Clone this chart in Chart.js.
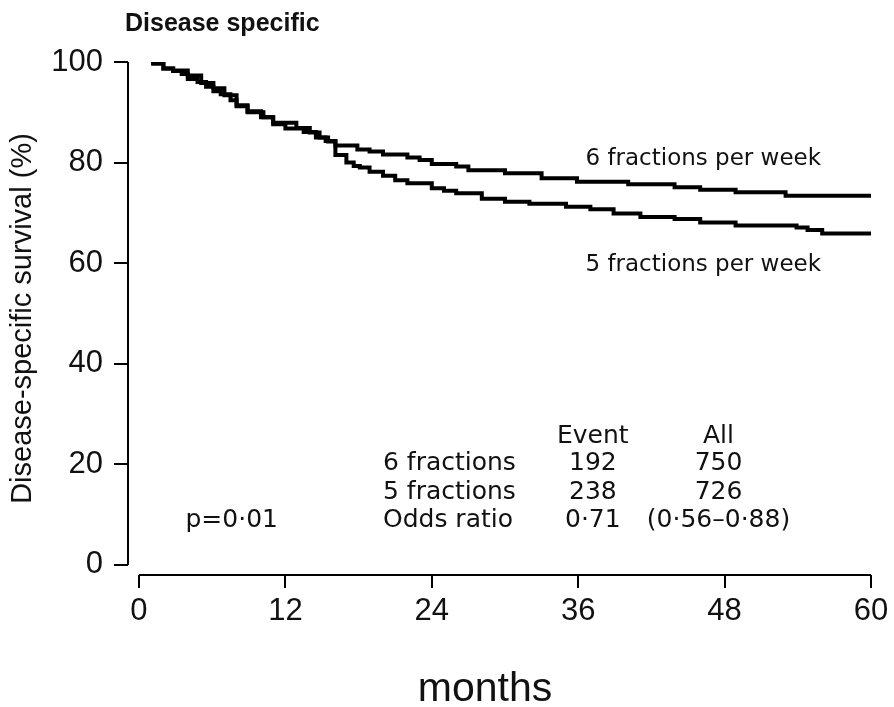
<!DOCTYPE html>
<html>
<head>
<meta charset="utf-8">
<script src="https://cdn.jsdelivr.net/npm/chart.js@4.4.1/dist/chart.umd.min.js"></script>
<style>
  html, body { margin: 0; padding: 0; background: #fff; }
  #wrap { width: 894px; height: 707px; }
</style>
</head>
<body>
<div id="wrap"><canvas id="km" width="894" height="707"></canvas></div>
<script>
'use strict';
// ── Données (Kaplan-Meier, survie spécifique) ────────────────────────────────
const xTicks = [0, 12, 24, 36, 48, 60];
const yTicks = [0, 20, 40, 60, 80, 100];

// 6 fractions par semaine : mois / survie (%)
const months6 = [1, 2, 2.8, 4, 5.1, 6.1, 7, 8, 8.9, 10, 11, 12.9, 14, 14.8, 15.5, 16.1,
  17.9, 18.9, 20, 22, 23, 24, 26, 27, 30, 33, 35.9, 40.1, 43.9, 46, 48.9, 53, 60];
const surv6 = [99.7, 98.7, 98.3, 97.3, 95.8, 94.8, 93.4, 91.4, 90.2, 89.0, 87.9, 86.9, 86.0, 85.0, 84.2, 83.4,
  82.6, 82.2, 81.6, 81.0, 80.5, 79.7, 79.2, 78.5, 77.9, 76.9, 76.2, 75.7, 75.1, 74.6, 74.1, 73.4, 73.4];

// 5 fractions par semaine
const months5 = [1, 2, 2.8, 3.5, 4, 4.8, 5.5, 6.1, 6.7, 7.5, 8, 8.9, 10.2, 11, 12, 13.5, 14.5, 15.3,
  16.1, 17, 17.6, 18.1, 18.9, 20, 21, 22, 24, 25, 26, 28.1, 30, 32, 35, 37, 38.9, 41.1, 43.9, 46, 48.9,
  53.9, 54.8, 56, 60];
const surv5 = [99.7, 98.7, 98.2, 97.6, 96.6, 96.0, 95.1, 94.2, 93.6, 92.4, 91.2, 90.0, 89.0, 87.6, 86.8, 86.1, 85.0, 84.3,
  81.5, 80.0, 79.3, 79.0, 78.2, 77.4, 76.5, 75.9, 74.9, 74.4, 73.9, 72.8, 72.2, 71.8, 71.2, 70.7, 69.9, 69.2, 68.8, 68.1, 67.5,
  67.1, 66.6, 65.9, 65.9];

// Tableau récapitulatif
const tableHead = ['Event', 'All'];
const tableRows = [
  ['6 fractions', '192', '750'],
  ['5 fractions', '238', '726'],
  ['Odds ratio', '0·71', '(0·56–0·88)'],
];
const pValue = 'p=0·01';

const ANNOT_FONT = '"DejaVu Sans", sans-serif';
const AXIS_FONT = '"Liberation Sans", Arial, sans-serif';
const INK = '#111';

// ── Axes détachés + annotations ─────────────────────────────────────────────
const annotPlugin = {
  id: 'annot',
  afterDraw(chart) {
    const { ctx, scales: { x, y }, chartArea: ca } = chart;
    ctx.save();
    ctx.strokeStyle = '#000';
    ctx.lineWidth = 2;
    ctx.beginPath();
    ctx.moveTo(ca.left, y.getPixelForValue(100));
    ctx.lineTo(ca.left, y.getPixelForValue(0));
    ctx.moveTo(x.getPixelForValue(0), ca.bottom);
    ctx.lineTo(x.getPixelForValue(60), ca.bottom);
    ctx.stroke();

    const txt = (s, mx, vy, align, font) => {
      ctx.font = font;
      ctx.textAlign = align;
      ctx.textBaseline = 'middle';
      ctx.fillText(s, x.getPixelForValue(mx), y.getPixelForValue(vy));
    };
    ctx.fillStyle = INK;
    ctx.textBaseline = 'middle';
    ctx.font = 'bold 25px ' + AXIS_FONT;
    ctx.textAlign = 'left';
    ctx.fillText('Disease specific', ca.left - 3, 24);

    // titre de l'axe x, légèrement décalé à gauche comme sur la figure
    ctx.font = '41px ' + AXIS_FONT;
    ctx.textAlign = 'center';
    ctx.fillText('months', 485, 690);

    const f23 = '23px ' + ANNOT_FONT, f25 = '25px ' + ANNOT_FONT;
    txt('6 fractions per week', 36.6, 80.7, 'left', f23);
    txt('5 fractions per week', 36.6, 59.6, 'left', f23);

    txt(tableHead[0], 37.2, 25.6, 'center', f25);
    txt(tableHead[1], 47.5, 25.6, 'center', f25);
    const rowV = [20.1, 14.5, 8.9];
    tableRows.forEach((r, i) => {
      txt(r[0], 20.0, rowV[i], 'left', f25);
      txt(r[1], 37.2, rowV[i], 'center', f25);
      txt(r[2], 47.5, rowV[i], 'center', f25);
    });
    txt(pValue, 7.6, 8.9, 'center', f25);
    ctx.restore();
  }
};

const toPts = (xs, ys) => xs.map((m, i) => ({ x: m, y: ys[i] }));

new Chart(document.getElementById('km'), {
  type: 'line',
  data: {
    datasets: [
      { label: '6 fractions', data: toPts(months6, surv6), stepped: true, borderColor: '#000', borderWidth: 4, pointRadius: 0, fill: false },
      { label: '5 fractions', data: toPts(months5, surv5), stepped: true, borderColor: '#000', borderWidth: 4, pointRadius: 0, fill: false },
    ],
  },
  options: {
    responsive: false,
    animation: false,
    layout: { padding: { top: 62, right: 23, left: 0, bottom: 0 } },
    plugins: { legend: { display: false }, tooltip: { enabled: false } },
    scales: {
      x: {
        type: 'linear', min: -0.9, max: 60,
        afterBuildTicks: s => { s.ticks = xTicks.map(v => ({ value: v })); },
        afterFit: s => { s.height = 132; },
        border: { display: false },
        grid: { drawOnChartArea: false, drawTicks: true, tickLength: 13, color: '#000', lineWidth: 2 },
        ticks: { color: INK, font: { family: AXIS_FONT, size: 31 }, padding: 5, maxRotation: 0 },
      },
      y: {
        type: 'linear', min: -2, max: 100,
        afterBuildTicks: s => { s.ticks = yTicks.map(v => ({ value: v })); },
        afterFit: s => { s.width = 128; },
        border: { display: false },
        grid: { drawOnChartArea: false, drawTicks: true, tickLength: 14, color: '#000', lineWidth: 2 },
        ticks: { color: INK, font: { family: AXIS_FONT, size: 31 }, padding: 11 },
        title: { display: true, text: 'Disease-specific survival (%)', color: INK, font: { family: AXIS_FONT, size: 29, lineHeight: 1.2 }, padding: { top: 6, bottom: 0 } },
      },
    },
  },
  plugins: [annotPlugin],
});
</script>
</body>
</html>
